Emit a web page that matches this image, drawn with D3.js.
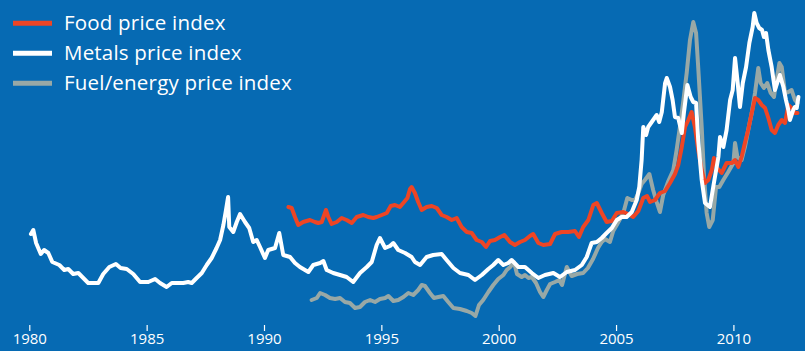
<!DOCTYPE html>
<html>
<head>
<meta charset="utf-8">
<script src="https://cdn.jsdelivr.net/npm/d3@7"></script>
<style>
  html, body { margin: 0; padding: 0; background: #066ab3; }
  svg { display: block; }
</style>
</head>
<body>
<svg id="chart" width="805" height="351"></svg>
<script>
// Commodity price indices, [year, index value]
const metalsIndex = [
  [1980.07,96],[1980.17,100],[1980.29,87],[1980.49,76],[1980.63,80],[1980.81,77],[1980.98,68],[1981.28,65],[1981.49,60],[1981.66,61],[1981.87,56],[1982.09,57],[1982.30,52],[1982.51,47],[1982.73,47],[1982.94,47],[1983.15,56],[1983.41,63],[1983.69,66],[1983.89,62],[1984.15,61],[1984.43,56],[1984.72,48],[1984.89,48],[1985.07,48],[1985.36,51],[1985.57,47],[1985.85,43],[1986.07,47],[1986.35,47],[1986.56,47],[1986.77,48],[1986.92,47],[1987.13,52],[1987.35,57],[1987.56,65],[1987.77,72],[1987.98,82],[1988.13,90],[1988.27,105],[1988.38,120],[1988.47,133],[1988.52,103],[1988.69,98],[1988.84,108],[1988.98,116],[1989.19,108],[1989.37,102],[1989.54,88],[1989.69,90],[1989.83,83],[1990.04,72],[1990.18,80],[1990.47,82],[1990.65,97],[1990.82,75],[1991.11,73],[1991.32,67],[1991.53,63],[1991.89,58],[1992.10,65],[1992.39,67],[1992.53,69],[1992.67,60],[1992.95,57],[1993.24,55],[1993.52,53],[1993.80,48],[1994.09,57],[1994.38,63],[1994.59,68],[1994.80,85],[1994.94,92],[1995.16,82],[1995.37,84],[1995.51,87],[1995.72,80],[1996.01,77],[1996.29,73],[1996.43,68],[1996.65,65],[1996.93,73],[1997.21,75],[1997.57,76],[1997.78,70],[1998.07,62],[1998.35,57],[1998.71,55],[1998.99,50],[1999.28,55],[1999.56,61],[1999.77,65],[1999.98,70],[2000.20,65],[2000.41,67],[2000.55,70],[2000.84,63],[2001.12,63],[2001.41,57],[2001.69,52],[2001.97,55],[2002.33,57],[2002.61,53],[2002.90,58],[2003.25,60],[2003.54,65],[2003.75,73],[2003.96,87],[2004.18,88],[2004.39,92],[2004.60,97],[2004.82,102],[2005.03,110],[2005.24,113],[2005.45,113],[2005.67,118],[2005.88,130],[2005.99,143],[2006.09,170],[2006.16,203],[2006.28,195],[2006.37,203],[2006.52,208],[2006.73,215],[2006.84,208],[2006.95,218],[2007.09,247],[2007.16,252],[2007.30,243],[2007.41,230],[2007.51,213],[2007.65,212],[2007.80,197],[2007.89,217],[2008.04,245],[2008.18,233],[2008.29,228],[2008.41,227],[2008.50,190],[2008.65,150],[2008.79,127],[2009.00,123],[2009.14,143],[2009.36,173],[2009.43,193],[2009.57,183],[2009.71,200],[2009.86,230],[2009.97,240],[2010.07,272],[2010.17,250],[2010.28,223],[2010.40,247],[2010.54,263],[2010.68,287],[2010.82,303],[2010.89,317],[2010.99,307],[2011.10,302],[2011.22,300],[2011.30,293],[2011.39,297],[2011.49,280],[2011.63,263],[2011.77,240],[2011.91,250],[2011.98,255],[2012.13,243],[2012.24,230],[2012.34,220],[2012.41,210],[2012.55,220],[2012.62,223],[2012.70,222],[2012.77,233]
];

const foodIndex = [
  [1991.04,123],[1991.18,122],[1991.32,113],[1991.46,105],[1991.67,108],[1991.96,110],[1992.17,108],[1992.31,107],[1992.46,108],[1992.64,120],[1992.74,113],[1992.88,106],[1993.10,108],[1993.31,112],[1993.52,110],[1993.74,107],[1993.95,113],[1994.23,115],[1994.44,113],[1994.66,112],[1994.80,113],[1995.02,115],[1995.23,117],[1995.40,124],[1995.58,125],[1995.79,123],[1995.97,128],[1996.11,132],[1996.22,141],[1996.29,143],[1996.43,137],[1996.57,128],[1996.72,120],[1996.93,123],[1997.15,124],[1997.36,122],[1997.57,115],[1997.78,113],[1998.00,110],[1998.21,112],[1998.42,103],[1998.64,98],[1998.85,97],[1999.06,90],[1999.28,88],[1999.46,83],[1999.63,89],[1999.84,90],[2000.06,93],[2000.24,95],[2000.48,88],[2000.69,85],[2000.91,88],[2001.12,90],[2001.33,94],[2001.47,96],[2001.69,87],[2001.90,85],[2002.19,86],[2002.40,96],[2002.68,98],[2002.97,98],[2003.25,99],[2003.42,93],[2003.60,103],[2003.82,110],[2004.03,125],[2004.18,127],[2004.39,117],[2004.60,108],[2004.82,109],[2005.03,117],[2005.31,118],[2005.52,116],[2005.73,113],[2005.95,119],[2006.16,132],[2006.32,134],[2006.45,128],[2006.66,130],[2006.87,137],[2007.09,139],[2007.30,147],[2007.51,156],[2007.65,165],[2007.80,183],[2007.94,203],[2008.08,210],[2008.22,218],[2008.36,203],[2008.50,180],[2008.65,160],[2008.79,147],[2008.93,150],[2009.08,160],[2009.17,172],[2009.31,162],[2009.50,157],[2009.71,167],[2009.93,167],[2010.07,170],[2010.21,163],[2010.35,173],[2010.49,187],[2010.63,200],[2010.78,217],[2010.92,232],[2011.06,230],[2011.21,225],[2011.35,222],[2011.49,212],[2011.63,200],[2011.77,197],[2011.91,205],[2012.06,210],[2012.20,207],[2012.34,225],[2012.48,222],[2012.62,217],[2012.73,217]
];

const fuelIndex = [
  [1992.03,30],[1992.25,32],[1992.39,37],[1992.60,35],[1992.81,32],[1993.03,31],[1993.24,32],[1993.45,28],[1993.66,27],[1993.88,22],[1994.09,23],[1994.30,28],[1994.52,30],[1994.73,28],[1994.94,31],[1995.16,32],[1995.30,34],[1995.51,29],[1995.72,30],[1995.94,33],[1996.15,37],[1996.36,35],[1996.57,40],[1996.72,45],[1996.86,44],[1997.07,37],[1997.24,32],[1997.43,33],[1997.64,34],[1997.85,28],[1998.07,22],[1998.35,21],[1998.64,19],[1998.85,17],[1999.01,14],[1999.16,25],[1999.34,30],[1999.56,38],[1999.77,45],[1999.98,51],[2000.20,55],[2000.34,60],[2000.49,63],[2000.65,68],[2000.78,56],[2000.98,53],[2001.12,55],[2001.27,52],[2001.41,53],[2001.59,47],[2001.76,38],[2001.90,33],[2002.05,40],[2002.19,46],[2002.40,48],[2002.58,50],[2002.70,45],[2002.90,63],[2003.11,54],[2003.34,56],[2003.60,57],[2003.80,62],[2004.02,71],[2004.23,82],[2004.39,88],[2004.53,91],[2004.74,88],[2004.88,99],[2005.03,105],[2005.17,111],[2005.31,117],[2005.48,132],[2005.67,130],[2005.81,130],[2005.95,137],[2006.09,146],[2006.23,150],[2006.42,156],[2006.58,140],[2006.73,128],[2006.87,118],[2007.01,135],[2007.23,149],[2007.44,160],[2007.58,180],[2007.72,203],[2007.87,230],[2008.01,257],[2008.15,290],[2008.29,308],[2008.41,297],[2008.50,263],[2008.65,203],[2008.75,153],[2008.86,117],[2008.97,103],[2009.12,110],[2009.26,143],[2009.40,143],[2009.57,150],[2009.78,158],[2010.00,167],[2010.07,187],[2010.17,173],[2010.35,170],[2010.49,183],[2010.63,200],[2010.78,217],[2010.92,237],[2011.06,262],[2011.16,247],[2011.30,242],[2011.44,247],[2011.59,237],[2011.73,233],[2011.84,250],[2011.96,267],[2012.06,263],[2012.20,237],[2012.34,238],[2012.48,240],[2012.62,230],[2012.73,227]
];

const seriesNames = ["Food price index", "Metals price index", "Fuel/energy price index"];
const seriesColors = ["#ee4524", "#ffffff", "#98a8a6"];
const tickYears = [1980, 1985, 1990, 1995, 2000, 2005, 2010];

const width = 805, height = 351;
const fontStack = "'Open Sans', Lato, sans-serif";
const svg = d3.select("#chart");

svg.append("rect")
  .attr("width", width).attr("height", height)
  .attr("fill", "#066ab3");

const x = d3.scaleLinear().domain([1980, 2010]).range([29.3, 733.4]);
const y = d3.scaleLinear().domain([0, 320]).range([330, 10]);

const line = d3.line()
  .x(d => x(d[0]))
  .y(d => y(d[1]))
  .curve(d3.curveLinear);

// draw order: fuel underneath, then food, metals on top
const drawOrder = [
  { data: fuelIndex, color: seriesColors[2] },
  { data: foodIndex, color: seriesColors[0] },
  { data: metalsIndex, color: seriesColors[1] }
];

svg.append("g").selectAll("path")
  .data(drawOrder)
  .join("path")
  .attr("d", d => line(d.data))
  .attr("fill", "none")
  .attr("stroke", d => d.color)
  .attr("stroke-width", 4)
  .attr("stroke-linejoin", "round")
  .attr("stroke-linecap", "round");

// x axis: short tick marks and year labels, no domain line
const xAxis = d3.axisBottom(x)
  .tickValues(tickYears)
  .tickFormat(d3.format("d"))
  .tickSize(6)
  .tickPadding(4);

const axisG = svg.append("g")
  .attr("transform", "translate(0,325)")
  .call(xAxis);

axisG.select(".domain").remove();
axisG.selectAll(".tick line")
  .attr("stroke", "#ffffff")
  .attr("stroke-width", 1.2);
axisG.selectAll(".tick text")
  .attr("fill", "#ffffff")
  .attr("font-family", fontStack)
  .attr("font-size", 15)
  .attr("dy", "0.62em");

// legend
const legend = svg.append("g")
  .attr("font-family", fontStack)
  .attr("font-size", 20.5)
  .attr("letter-spacing", 0.2)
  .attr("fill", "#ffffff");

const legendRows = legend.selectAll("g")
  .data(seriesNames)
  .join("g")
  .attr("transform", (d, i) => `translate(0,${23.3 + i * 30})`);

legendRows.append("line")
  .attr("x1", 13).attr("x2", 52)
  .attr("y1", 0).attr("y2", 0)
  .attr("stroke", (d, i) => seriesColors[i])
  .attr("stroke-width", 5);

legendRows.append("text")
  .attr("x", 64)
  .attr("y", 7)
  .text(d => d);
</script>
</body>
</html>
